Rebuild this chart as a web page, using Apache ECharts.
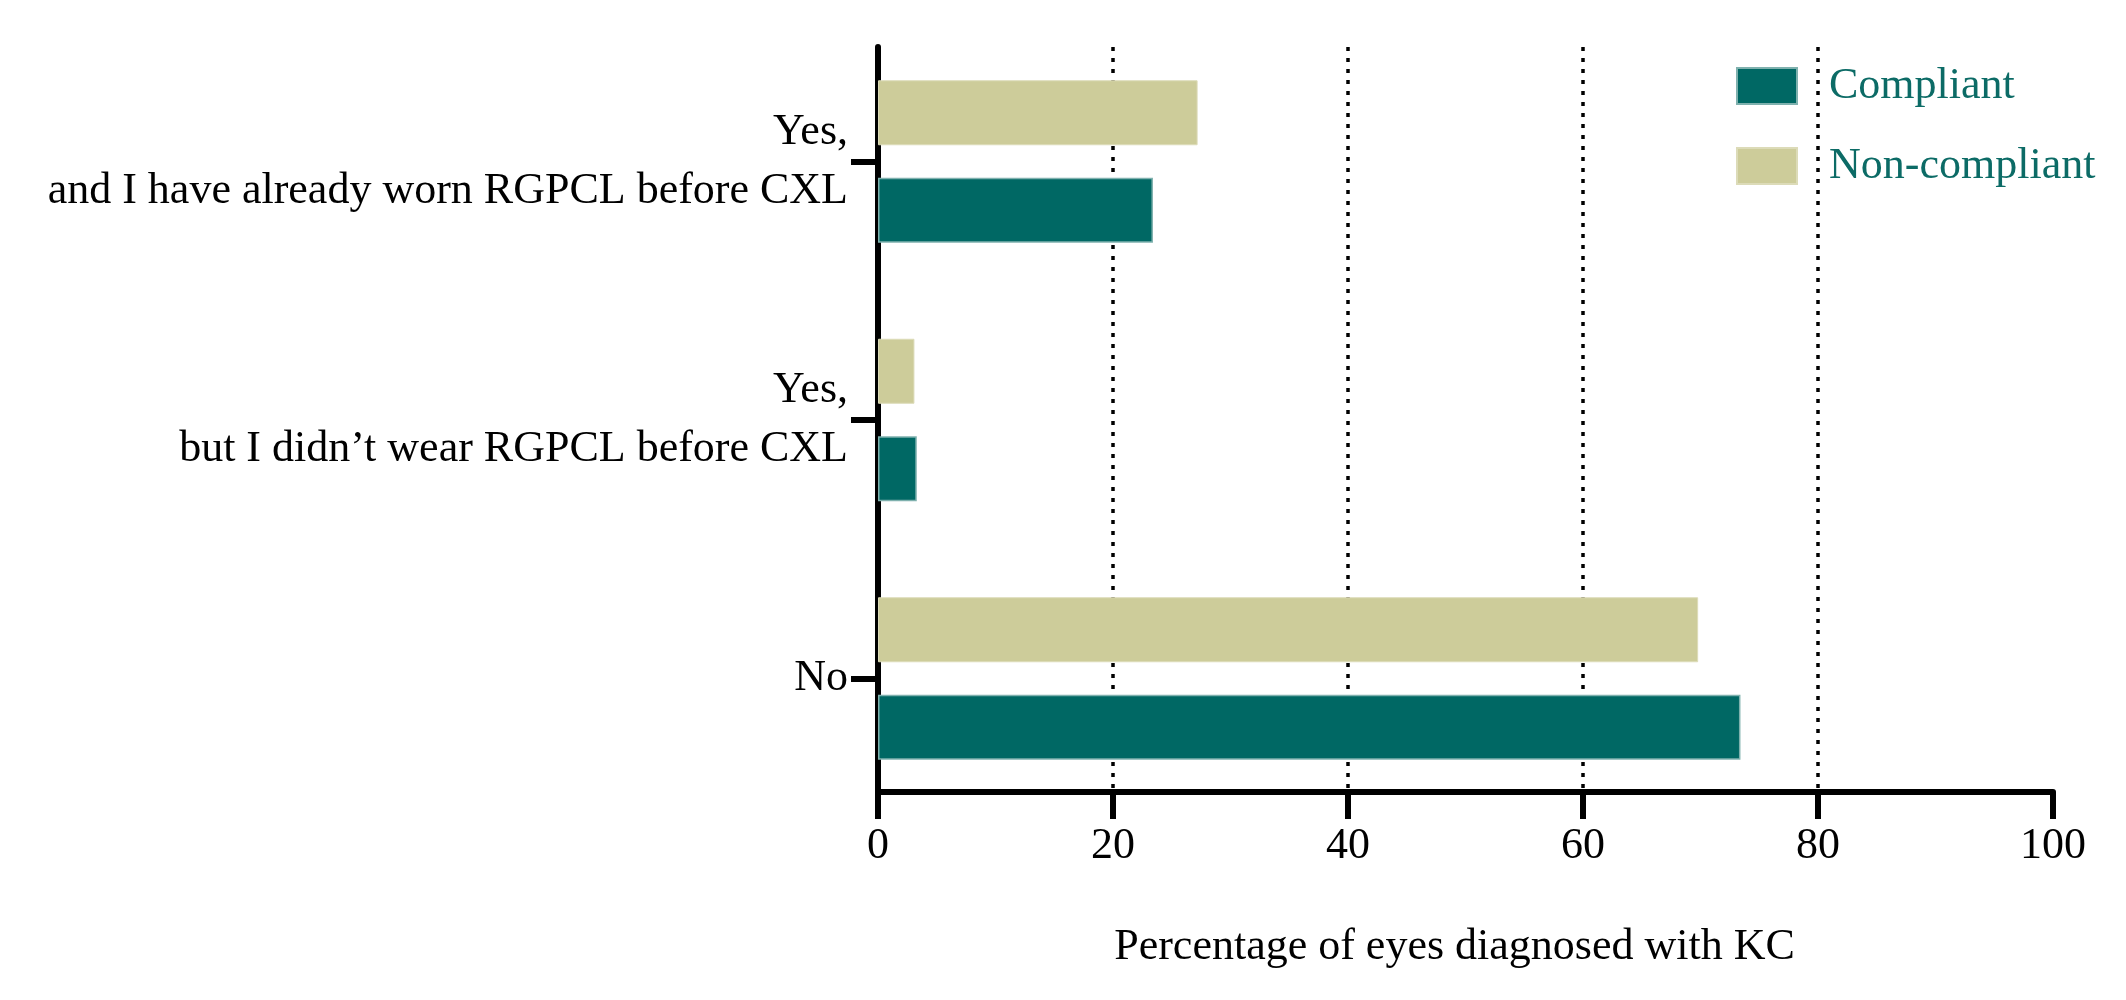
<!DOCTYPE html>
<html>
<head>
<meta charset="utf-8">
<script src="https://cdn.jsdelivr.net/npm/echarts@6/dist/echarts.min.js"></script>
<style>
html,body{margin:0;padding:0;background:#fff;}
#chart{width:2126px;height:1000px;}
</style>
</head>
<body>
<div id="chart"></div>
<script>
// Categories from top to bottom
const categories = [
  "Yes,\nand I have already worn RGPCL before CXL",
  "Yes,\nbut I didn\u2019t wear RGPCL before CXL",
  "No"
];
const compliant = [23.4, 3.3, 73.4];
const nonCompliant = [27.2, 3.1, 69.8];
const xTicks = [0, 20, 40, 60, 80, 100];
const seriesNames = ["Compliant", "Non-compliant"];
const axisTitle = "Percentage of eyes diagnosed with KC";

const FONT = "Liberation Serif";
const chart = echarts.init(document.getElementById('chart'));

chart.setOption({
  backgroundColor: '#ffffff',
  animation: false,
  legend: {
    data: seriesNames,
    orient: 'vertical',
    left: 1731,
    top: 59,
    padding: 5,
    itemWidth: 60,
    itemHeight: 36,
    itemGap: 36,
    icon: 'rect',
    textStyle: { fontFamily: FONT, fontSize: 44, color: '#0c6b66', padding: [0, 0, 0, 27] }
  },
  grid: [
    { left: 878, right: 73, top: 32.25, bottom: 192.25, containLabel: false },
    { left: 878, right: 73, top: 47, bottom: 208, containLabel: false }
  ],
  xAxis: [
    { gridIndex: 0, type: 'value', min: xTicks[0], max: xTicks[xTicks.length - 1], interval: 20, show: false },
    {
      gridIndex: 1, type: 'value', min: xTicks[0], max: xTicks[xTicks.length - 1], interval: 20,
      axisLine: { show: true, onZero: false, lineStyle: { color: '#000', width: 6 } },
      axisTick: { show: true, length: 27, lineStyle: { color: '#000', width: 6 } },
      axisLabel: { fontFamily: FONT, fontSize: 44, color: '#000', margin: 32 },
      splitLine: { show: true, showMinLine: false, showMaxLine: false, lineStyle: { color: '#000', width: 3.5, type: [4, 7] } },
      name: axisTitle,
      nameLocation: 'middle',
      nameGap: 133,
      nameTextStyle: { fontFamily: FONT, fontSize: 44, color: '#000', padding: [0, 22, 0, 0] }
    }
  ],
  yAxis: [
    {
      gridIndex: 0, type: 'category', data: categories, inverse: true,
      axisLine: { show: false },
      axisTick: { show: true, alignWithLabel: true, length: 27, lineStyle: { color: '#000', width: 6 } },
      axisLabel: { fontFamily: FONT, fontSize: 44, color: '#000', margin: 30, lineHeight: 59, align: 'right' },
      splitLine: { show: false }
    },
    {
      gridIndex: 1, type: 'value', min: 0, max: 1,
      axisLine: { show: true, onZero: false, lineStyle: { color: '#000', width: 6 } },
      axisTick: { show: false }, axisLabel: { show: false }, splitLine: { show: false }
    }
  ],
  series: [
    {
      name: seriesNames[1], type: 'bar', xAxisIndex: 0, yAxisIndex: 0,
      data: nonCompliant, barWidth: 65, barGap: '50%',
      itemStyle: { color: '#cdcc9a', borderColor: '#dcdbb8', borderWidth: 1 }
    },
    {
      name: seriesNames[0], type: 'bar', xAxisIndex: 0, yAxisIndex: 0,
      data: compliant, barWidth: 65, barGap: '50%',
      itemStyle: { color: '#006864', borderColor: '#7fb1ae', borderWidth: 1.5 }
    }
  ]
});
</script>
</body>
</html>
